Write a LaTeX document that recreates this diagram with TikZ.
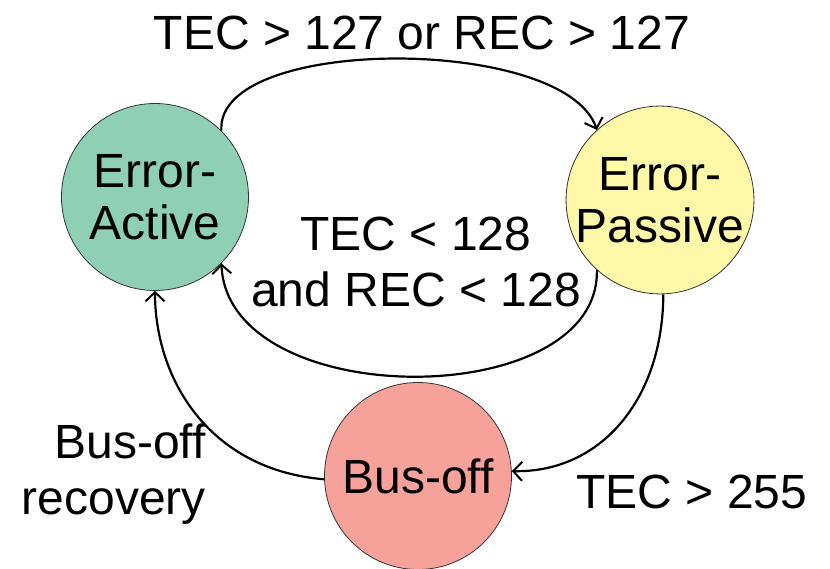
\documentclass[tikz,border=0pt]{standalone}
\usepackage{fontspec}
\setmainfont{Liberation Sans}
\usetikzlibrary{arrows.meta}
\definecolor{activeC}{RGB}{142,207,182}
\definecolor{passiveC}{RGB}{255,248,168}
\definecolor{busoffC}{RGB}{246,162,155}
\begin{document}
\begin{tikzpicture}[x=1pt,y=-1pt,
  state/.style={circle,draw=black!80,line width=0.8pt,minimum size=187pt,inner sep=0pt,
    align=center,font=\fontsize{48}{52}\selectfont},
  lbl/.style={inner sep=0pt,font=\fontsize{48}{55}\selectfont},
  trans/.style={line width=2.2pt,-{Straight Barb[length=9pt,width=19pt,line width=2pt]}}]
\useasboundingbox (0,0) rectangle (830,569);
\node[state,fill=activeC] (act) at (155,197) {Error-\\Active};
\node[state,fill=passiveC] (pas) at (660,200) {Error-\\Passive};
\node[state,fill=busoffC] (bus) at (418,476) {Bus-off};

\node[lbl] (t1) at (422,33) {TEC > 127 or REC > 127};
\node[lbl,align=center,font=\fontsize{48}{56}\selectfont] (t2) at (416,262) {TEC < 128\\and REC < 128};
\node[lbl,align=right,font=\fontsize{48}{56}\selectfont,anchor=east] (t3) at (206,474) {Bus-off\\recovery};
\node[lbl] (t4) at (692,492) {TEC > 255};

\draw[trans] (act.45) .. controls (215,35) and (565,35) .. (pas.132);
\draw[trans] (pas.-132) .. controls (600,413) and (228,413) .. (act.-45);
\draw[trans] (bus.182) .. controls (210,470) and (155,380) .. (act.south);
\draw[trans] (pas.-88) .. controls (663,400) and (600,473) .. (bus.3);
\end{tikzpicture}
\end{document}
